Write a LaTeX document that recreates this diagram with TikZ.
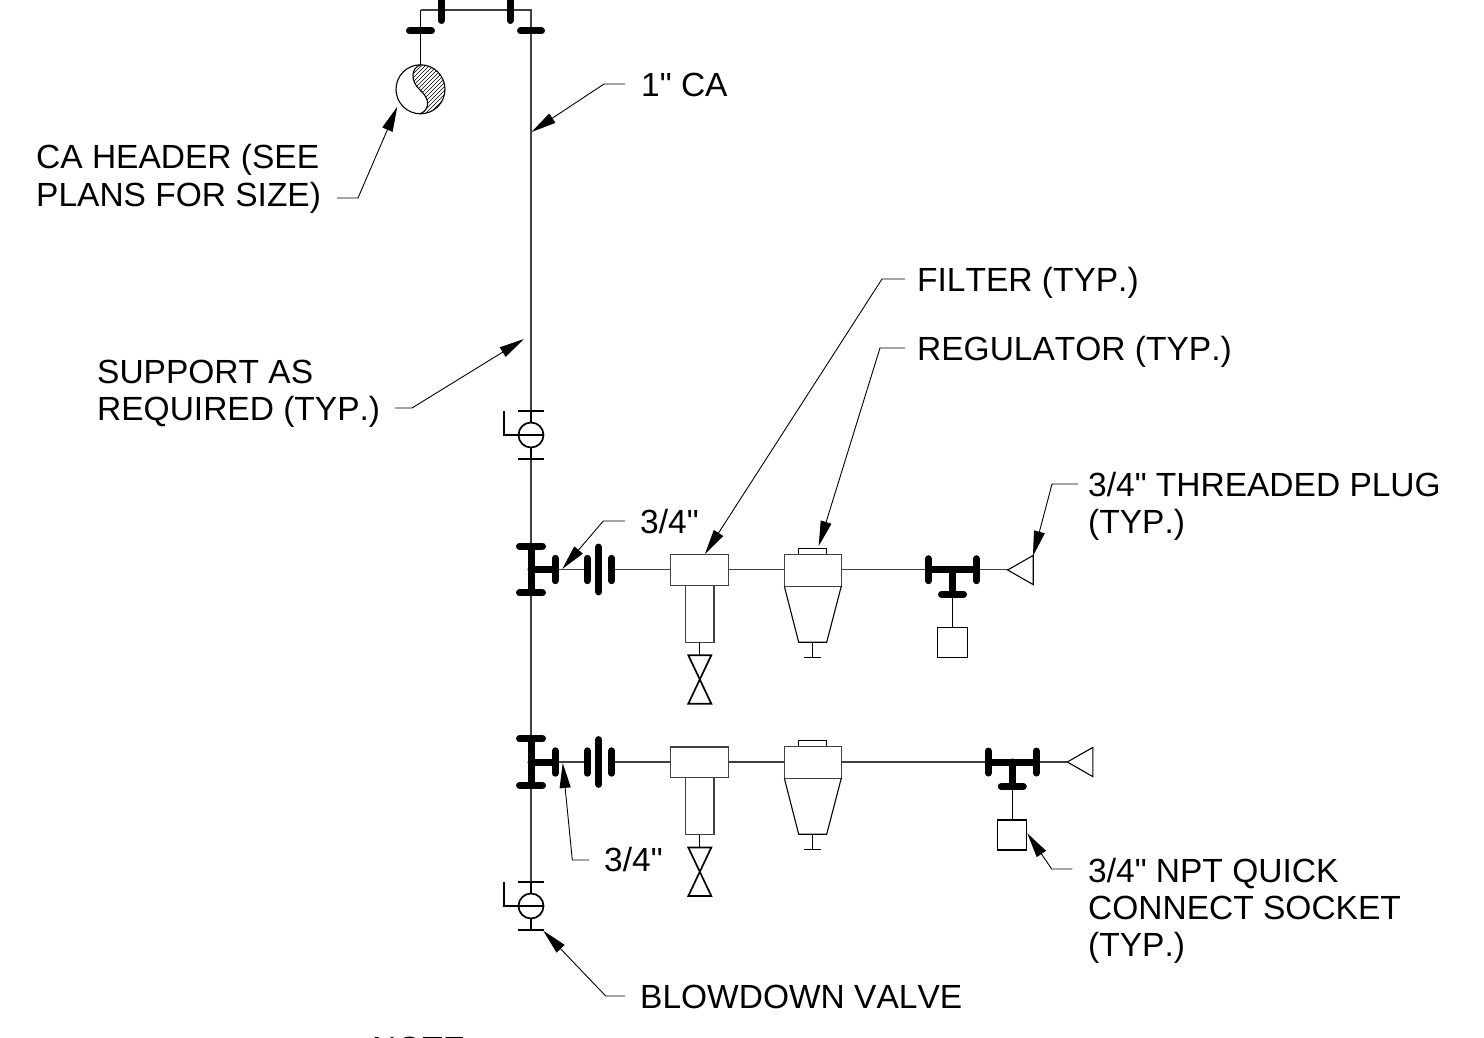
\documentclass[tikz,border=0pt]{standalone}
\usepackage{fontspec}
\newfontfamily\labelfont[Kerning=Off]{Liberation Sans}
\usetikzlibrary{arrows.meta}
\definecolor{pipegray}{gray}{0.25}
\tikzset{
  x=1pt,y=-1pt,
  pipe/.style={draw=pipegray,line width=1.2pt,line join=miter},
  thin part/.style={draw=black,line width=1.1pt},
  heavy/.style={draw=black,line width=7pt,line cap=round},
  valve line/.style={draw=black,line width=1.7pt},
  leader/.style={draw=black,line width=0.9pt,-{Triangle[length=25pt,width=11pt]}},
  callout/.style={inner sep=0pt,anchor=base west,font=\labelfont\fontsize{33.5}{37}\selectfont,text=black},
  union/.pic={
    \draw[heavy] (0,-11.2) -- (0,11.2);
    \draw[heavy] (32,-11.2) -- (32,11.2);
    \draw[heavy] (43.7,-22.4) -- (43.7,22.4);
    \draw[heavy] (56.7,-11.2) -- (56.7,11.2);
    \draw[heavy] (-24,0) -- (0,0);
    \draw[heavy] (-24,-23.3) -- (-24,23.3);
    \draw[heavy] (-35.5,-23.3) -- (-12.5,-23.3);
    \draw[heavy] (-35.5,23.3) -- (-12.5,23.3);
  },
  filter unit/.pic={
    \draw[pipe] (0,0) rectangle (58,30.5);
    \draw[pipe] (15,30.5) rectangle (43.7,87.5);
    \draw[thin part] (29,87.5) -- (29,100.5);
    \draw[valve line,line join=miter] (18,100.5) -- (41,100.5) -- (18,149) -- (41,149) -- cycle;
  },
  regulator unit/.pic={
    \draw[pipe] (0,0) rectangle (57,32);
    \draw[thin part] (14.4,0) -- (14.4,-6) -- (42.4,-6) -- (42.4,0);
    \draw[thin part] (0,32) -- (14.4,88) -- (42.4,88) -- (57,32);
    \draw[thin part] (28.4,88) -- (28.4,103.5);
    \draw[thin part] (20,103.5) -- (36.7,103.5);
  },
  ball valve/.pic={
    \draw[thin part] (-13,-24) -- (13,-24);
    \draw[thin part] (-13,24) -- (13,24);
    \draw[thin part] (0,-24) -- (0,-12.5);
    \draw[thin part] (0,12.5) -- (0,24);
    \draw[valve line] (0,0) circle[radius=12.5pt];
    \draw[valve line] (-27,-24) -- (-27,0) -- (12.5,0);
  },
  side tee/.pic={
    \draw[heavy] (-24,-11) -- (-24,11);
    \draw[heavy] (24,-11) -- (24,11);
    \draw[heavy] (-24,0) -- (24,0);
    \draw[heavy] (0,0) -- (0,24.5);
    \draw[heavy] (-11,24.5) -- (11,24.5);
    \draw[thin part] (0,24.5) -- (0,58);
    \draw[thin part] (-14.6,58) rectangle (14.6,88);
  },
  plug/.pic={
    \draw[thin part] (0,0) -- (25.5,-14.6) -- (25.5,14.6) -- cycle;
  }
}
\begin{document}
\begin{tikzpicture}
\useasboundingbox[fill=white] (0,0) rectangle (1484,1038);

% --- named points of the piping
\coordinate (topL) at (420.5,10);
\coordinate (topR) at (531,10);
\coordinate (hdr) at (420.5,89.3);
\coordinate (v1) at (531,435);
\coordinate (v2) at (531,906);

% --- pipes
\draw[pipe] (topL) -- (topR) -- (531,422.5);
\draw[pipe] (531,447.5) -- (531,893.5);
\draw[thin part] (topL) -- (420.5,64.8);
\draw[pipe] (555,569.5) -- (587,569.5);
\draw[pipe] (611.7,569.5) -- (670.3,569.5);
\draw[pipe] (728.3,569.5) -- (784.3,569.5);
\draw[pipe] (841.3,569.5) -- (928.5,569.5);
\draw[pipe] (976.5,569.5) -- (1007.7,569.5);
\draw[pipe] (555,762) -- (587,762);
\draw[pipe] (611.7,762) -- (670.3,762);
\draw[pipe] (728.3,762) -- (784.3,762);
\draw[pipe] (841.3,762) -- (988.3,762);
\draw[pipe] (1036.3,762) -- (1067.3,762);

% --- top loop flanges
\draw[heavy] (441.5,-6) -- (441.5,20.5);
\draw[heavy] (510,-6) -- (510,20.5);
\draw[heavy] (409.5,31) -- (431.5,31);
\draw[heavy] (520.5,31) -- (541.5,31);

% --- header
\begin{scope}
  \clip (420.5,64.8) .. controls (411,68) and (410,81) .. (420,90)
        .. controls (428,97) and (432,108) .. (420.5,113.8)
        arc[start angle=-90,end angle=90,radius=24.5pt] -- cycle;
  \foreach \k in {0,4,...,96}
    \draw[black,line width=0.7pt] (355+\k,120) -- (455+\k,20);
\end{scope}
\draw[thin part] (hdr) circle[radius=24.5pt];
\draw[thin part] (420.5,64.8) .. controls (411,68) and (410,81) .. (420,90)
        .. controls (428,97) and (432,108) .. (420.5,113.8);

% --- valves and fittings
\pic at (v1) {ball valve};
\pic at (v2) {ball valve};
\pic at (555,569.5) {union};
\pic at (555,762) {union};
\pic at (670.3,554.7) {filter unit};
\pic at (670.3,747) {filter unit};
\pic at (784.3,554.2) {regulator unit};
\pic at (784.3,746.2) {regulator unit};
\pic at (952.5,569.7) {side tee};
\pic at (1012.3,762) {side tee};
\pic at (1007.7,570) {plug};
\pic at (1067.3,762) {plug};

% --- labels
\node[callout] (lca)   at (641,97)   {1" CA};
\node[callout] (lhd1)  at (36,169)   {CA HEADER (SEE};
\node[callout] (lhd2)  at (36,206)   {PLANS FOR SIZE)};
\node[callout] (lsup1) at (97,383)   {SUPPORT AS};
\node[callout] (lsup2) at (97,420)   {REQUIRED (TYP.)};
\node[callout] (lfil)  at (917,291)  {FILTER (TYP.)};
\node[callout] (lreg)  at (917,360)  {REGULATOR (TYP.)};
\node[callout] (lplg1) at (1088,496) {3/4" THREADED PLUG};
\node[callout] (lplg2) at (1088,533) {(TYP.)};
\node[callout] (l34a)  at (640,533)  {3/4"};
\node[callout] (l34b)  at (604,871)  {3/4"};
\node[callout] (lqc1)  at (1088,882) {3/4" NPT QUICK};
\node[callout] (lqc2)  at (1088,919) {CONNECT SOCKET};
\node[callout] (lqc3)  at (1088,956) {(TYP.)};
\node[callout] (lblw)  at (640,1008) {BLOWDOWN VALVE};
\node[callout] (lnote) at (372,1060) {NOTE};

% --- leaders
\draw[leader] (625,84) -- (604,84) -- (531.5,132);
\draw[leader] (337,198) -- (358,198) -- (397.3,106.7);
\draw[leader] (395,408) -- (412,408) -- (524,339);
\draw[leader] (905,279) -- (882,279) -- (705,554);
\draw[leader] (905,348) -- (880,348) -- (818.7,546);
\draw[leader] (1078,484) -- (1052,484) -- (1033,556);
\draw[leader] (625,521) -- (603.3,521) -- (562.3,569);
\draw[leader] (589,860) -- (572.3,860) -- (562.7,763);
\draw[leader] (1072.3,869) -- (1051.7,869) -- (1027.3,833.3);
\draw[leader] (625,996) -- (605.7,996) -- (543.3,930.7);
\end{tikzpicture}
\end{document}
